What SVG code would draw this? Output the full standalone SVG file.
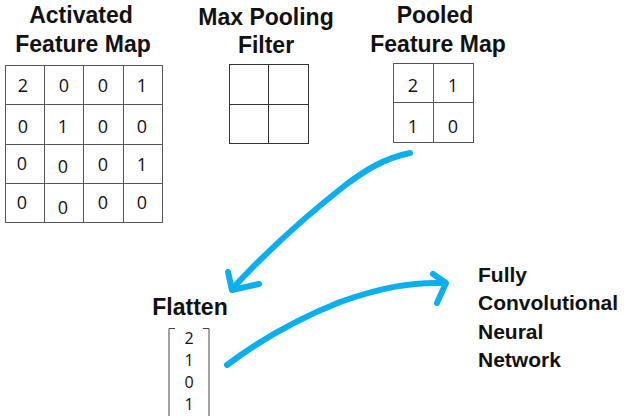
<svg xmlns="http://www.w3.org/2000/svg" width="635" height="416" viewBox="0 0 635 416">
<style>
.t{font-family:"Liberation Sans",Arial,sans-serif;font-weight:bold;font-size:23px;fill:#111;text-anchor:middle}
.f{font-family:"Liberation Sans",Arial,sans-serif;font-weight:bold;font-size:21px;fill:#111}
.n{font-family:"Open Sans","Noto Sans",sans-serif;font-size:18px;fill:#111;text-anchor:middle;dominant-baseline:central}
.v{font-size:16px}
.g{fill:none;stroke:#555;stroke-width:1}
.a{fill:none;stroke:#0AAFEF;stroke-width:6;stroke-linecap:round;stroke-linejoin:round}
</style>
<rect width="635" height="416" fill="#fff"/>
<g id="activated-feature-map">
<text class="t" x="81" y="23">Activated</text>
<text class="t" x="83" y="52">Feature Map</text>
<rect class="g" x="5.5" y="65.5" width="157" height="157"/>
<path class="g" d="M44.5 65v158M83.5 65v158M123.5 65v158M5 104.5h158M5 144.5h158M5 183.5h158"/>
<text class="n" x="23" y="85">2</text><text class="n" x="64" y="85">0</text><text class="n" x="103" y="85">0</text><text class="n" x="142" y="85">1</text>
<text class="n" x="23" y="126">0</text><text class="n" x="63" y="126">1</text><text class="n" x="103" y="126">0</text><text class="n" x="142" y="126">0</text>
<text class="n" x="22" y="163">0</text><text class="n" x="63" y="166">0</text><text class="n" x="103" y="164">0</text><text class="n" x="142" y="164">1</text>
<text class="n" x="22" y="202">0</text><text class="n" x="63" y="207">0</text><text class="n" x="103" y="202">0</text><text class="n" x="142" y="202">0</text>
</g>
<g id="max-pooling-filter">
<text class="t" x="266" y="25">Max Pooling</text>
<text class="t" x="266" y="53">Filter</text>
<rect class="g" x="229.5" y="64.5" width="79" height="79" style="stroke:#333"/>
<path class="g" d="M268.5 64v80M229 104.5h80" style="stroke:#333"/>
</g>
<g id="pooled-feature-map">
<text class="t" x="435" y="23">Pooled</text>
<text class="t" x="438" y="52">Feature Map</text>
<rect class="g" x="393.5" y="63.5" width="80" height="79"/>
<path class="g" d="M433.5 63v80M393 102.5h81"/>
<text class="n" x="413" y="85">2</text><text class="n" x="453" y="85">1</text>
<text class="n" x="413" y="126">1</text><text class="n" x="453" y="126">0</text>
</g>
<g id="flatten">
<text class="t" x="190" y="315">Flatten</text>
<path class="g" d="M175 328.5h-6v90M203 328.5h6v90" style="stroke:#444"/>
<text class="n v" x="189" y="338">2</text>
<text class="n v" x="189" y="360">1</text>
<text class="n v" x="189" y="382">0</text>
<text class="n v" x="189" y="404">1</text>
</g>
<g id="fully-convolutional-neural-network">
<text class="f" x="478" y="282">Fully</text>
<text class="f" x="478" y="310">Convolutional</text>
<text class="f" x="478" y="339">Neural</text>
<text class="f" x="478" y="367">Network</text>
</g>
<g id="connectors">
<path class="a" d="M410 153C385 158 365 170 343 187C310 213 270 248 233 288"/>
<path class="a" d="M228 272L232 290L259 284"/>
<path class="a" d="M227 365C260 340 300 318 340 302C380 288 410 282 443 283"/>
<path class="a" d="M433 274L446 283L437 303"/>
</g>
</svg>
